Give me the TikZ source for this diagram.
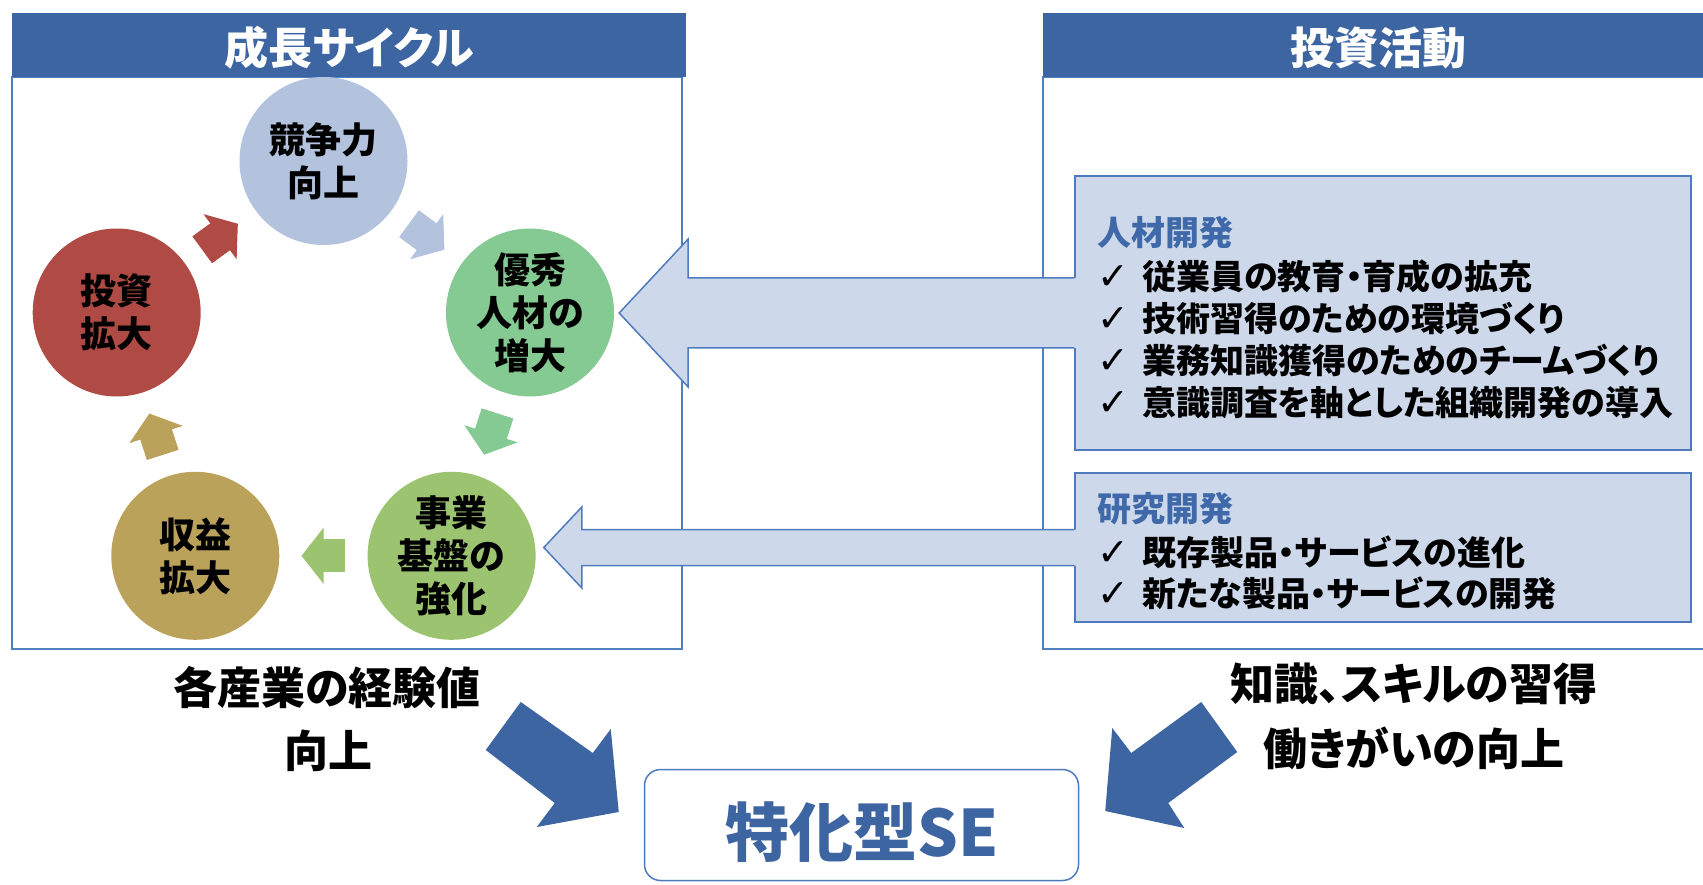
\documentclass[tikz,border=0pt]{standalone}
\usepackage{fontspec}
\setmainfont{Noto Sans CJK JP}[RawFeature=+palt]
\newfontfamily\symf{DejaVu Sans}
\usetikzlibrary{arrows.meta,calc}
\definecolor{hdr}{HTML}{3D65A2}
\definecolor{frm}{HTML}{5080C0}
\definecolor{bxfill}{HTML}{CDD9EA}
\definecolor{bxline}{HTML}{4F7BBE}
\definecolor{ttl}{HTML}{3F69A9}
\definecolor{ckyo}{HTML}{B3C3DE}
\definecolor{cyu}{HTML}{85C993}
\definecolor{cji}{HTML}{9CC36F}
\definecolor{cshu}{HTML}{BBA25B}
\definecolor{ctou}{HTML}{B04A45}
\newcommand{\myfs}[2]{\fontsize{#1pt}{#2pt}\selectfont}
\newcommand{\chk}{\makebox[45pt][l]{\symf\bfseries\fontsize{38pt}{40pt}\selectfont ✓}}
\tikzset{
 hbar/.style={fill=hdr, draw=none, minimum height=64pt, inner sep=0pt},
 htext/.style={anchor=base, text=white, font=\myfs{44}{50}\bfseries, inner sep=0pt},
 frame/.style={draw=frm, line width=1.5pt},
 cyc/.style={circle, fill=#1, minimum size=168pt, inner sep=0pt, align=center, font=\myfs{36}{43}\bfseries},
 sarrow/.style={draw=#1, line width=33pt, shorten <=22pt, shorten >=22pt,
   -{Triangle[length=22pt,width=56pt,line width=0pt]},
   postaction={draw=#1, -, line width=33pt, shorten <=22pt, shorten >=40pt}},
 rbox/.style={fill=bxfill, draw=bxline, line width=1.5pt, minimum width=616pt, inner sep=0pt},
 btitle/.style={anchor=base west, text=ttl, font=\myfs{34}{40}\bfseries, inner sep=0pt},
 bitem/.style={anchor=base west, font=\myfs{34}{40}\bfseries, inner sep=0pt},
 afill/.style={fill=bxfill},
 aline/.style={draw=bxline, line width=1.5pt, line join=miter},
 bigarrow/.style={fill=hdr},
 captext/.style={anchor=base, font=\myfs{44}{50}\bfseries, inner sep=0pt},
 sebox/.style={draw=bxline, line width=1.5pt, rounded corners=16pt, minimum width=434pt, minimum height=111pt, inner sep=0pt},
 setext/.style={anchor=base, text=hdr, font=\myfs{64}{70}\bfseries, inner sep=0pt},
}
\begin{document}
\begin{tikzpicture}[x=1pt,y=-1pt]
\useasboundingbox (0,0) rectangle (1703,885);
\fill[white] (0,0) rectangle (1703,885);
% frames
\draw[frame] (12,77) rectangle (682,649);
\draw[frame] (1043,77) rectangle (1720,649);
% header bars
\node[hbar, minimum width=674pt] (hb1) at (349,45) {};
\node[hbar, minimum width=664pt] (hb2) at (1375,45) {};
\node[htext] (ht1) at (349.5,65) {成長サイクル};
\node[htext] (ht2) at (1378,65) {投資活動};
% circles
\node[cyc=ckyo] (kyo) at (323.5,161) {競争力\\向上};
\node[cyc=cyu] (yu) at (530,312.5) {優秀\\人材の\\増大};
\node[cyc=cji] (ji) at (451.6,555.8) {事業\\基盤の\\強化};
\node[cyc=cshu] (shu) at (195.3,555.8) {収益\\拡大};
\node[cyc=ctou] (tou) at (116.7,312.5) {投資\\拡大};
% cycle arrows
\draw[sarrow=ctou] (tou) -- (kyo);
\draw[sarrow=ckyo] (kyo) -- (yu);
\draw[sarrow=cyu] (yu) -- (ji);
\draw[sarrow=cji] (ji) -- (shu);
\draw[sarrow=cshu] (shu) -- (tou);
% boxes
\node[rbox, minimum height=274pt] (jz) at (1383,313) {};
\node[rbox, minimum height=149pt] (kk) at (1383,547.5) {};
% arrow from jz to yu
\coordinate (t1) at ($(yu.east |- jz.west)+(5,0)$);
\fill[afill] ($(jz.west)+(3,-35)$) -- ($(t1)+(69,-35)$) -- ($(t1)+(69,-74)$) -- (t1) -- ($(t1)+(69,74)$) -- ($(t1)+(69,35)$) -- ($(jz.west)+(3,35)$) -- cycle;
\draw[aline] ($(jz.west)+(0,-35)$) -- ($(t1)+(69,-35)$) -- ($(t1)+(69,-74)$) -- (t1) -- ($(t1)+(69,74)$) -- ($(t1)+(69,35)$) -- ($(jz.west)+(0,35)$);
% arrow from kk to ji
\coordinate (t2) at ($(ji.east |- kk.west)+(8,0)$);
\fill[afill] ($(kk.west)+(3,-18)$) -- ($(t2)+(38,-18)$) -- ($(t2)+(38,-40.5)$) -- (t2) -- ($(t2)+(38,40.5)$) -- ($(t2)+(38,18)$) -- ($(kk.west)+(3,18)$) -- cycle;
\draw[aline] ($(kk.west)+(0,-18)$) -- ($(t2)+(38,-18)$) -- ($(t2)+(38,-40.5)$) -- (t2) -- ($(t2)+(38,40.5)$) -- ($(t2)+(38,18)$) -- ($(kk.west)+(0,18)$);
% box texts
\node[btitle] (jzt) at (1097,246) {人材開発};
\node[bitem] (j1) at (1097,290) {\chk 従業員の教育・育成の拡充};
\node[bitem] (j2) at (1097,331) {\chk 技術習得のための環境づくり};
\node[bitem] (j3) at (1097,373) {\chk 業務知識獲得のためのチームづくり};
\node[bitem] (j4) at (1097,415) {\chk 意識調査を軸とした組織開発の導入};
\node[btitle] (kkt) at (1097,521) {研究開発};
\node[bitem] (k1) at (1097,565) {\chk 既存製品・サービスの進化};
\node[bitem] (k2) at (1097,606) {\chk 新たな製品・サービスの開発};
% captions
\node[captext] (c1) at (327,704) {各産業の経験値};
\node[captext] (c1b) at (328,767) {向上};
\node[captext] (c2) at (1414,700) {知識、スキルの習得};
\node[captext] (c2b) at (1414,765) {働きがいの向上};
% result box
\node[sebox] (se) at (861.5,825) {};
\node[setext] (set) at (862,856) {特化型SE};
% big arrows
\coordinate (bt1) at ($(se.west)+(-25,-13)$);
\fill[bigarrow, shift={(bt1)}] (-98,-110) -- (-26,-59) -- (-8,-83) -- (0,0) -- (-82,15) -- (-64,-9) -- (-133,-62) -- cycle;
\coordinate (bt2) at ($(se.east)+(26,-14)$);
\fill[bigarrow, shift={(bt2)}] (96,-109) -- (26,-58) -- (7,-83) -- (0,0) -- (79,17) -- (63,-8) -- (132,-59) -- cycle;
\end{tikzpicture}
\end{document}
